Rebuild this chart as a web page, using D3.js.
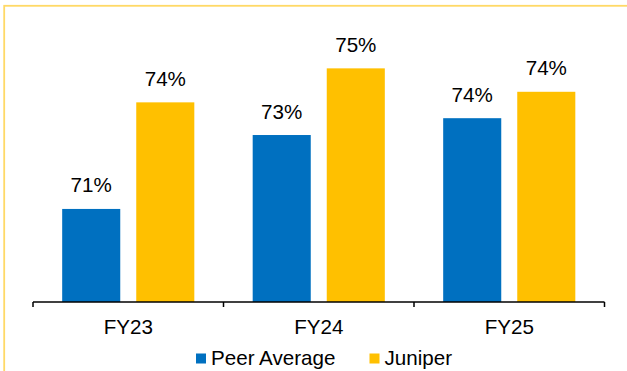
<!DOCTYPE html>
<html>
<head>
<meta charset="utf-8">
<script src="https://cdn.jsdelivr.net/npm/d3@7"></script>
<style>
  body { margin: 0; background: #fff; }
  svg { display: block; }
</style>
</head>
<body>
<div class="CHART"></div>
<script>
// chart values
var categories = ["FY23", "FY24", "FY25"];
var seriesNames = ["Peer Average", "Juniper"];
var peerAverage = [70.82, 73.06, 73.57];
var juniper = [74.05, 75.08, 74.37];
var seriesColors = ["#0070C0", "#FFC000"];

var width = 627, height = 371;
var font = "'Liberation Sans', Arial, sans-serif";
var fontSize = "20.6px";

var svg = d3.select(".CHART").append("svg")
    .attr("width", width)
    .attr("height", height);

// pale yellow frame, runs off the right and bottom of the picture
svg.append("rect")
    .attr("x", 4.2)
    .attr("y", 5.8)
    .attr("width", 700)
    .attr("height", 500)
    .attr("fill", "none")
    .attr("stroke", "#FFD966")
    .attr("stroke-width", 1.8);

var x0 = d3.scaleBand()
    .domain(categories)
    .range([33, 604.5]);

var x1 = d3.scaleBand()
    .domain(seriesNames)
    .range([0, x0.bandwidth()])
    .paddingInner(0.216)
    .paddingOuter(0.394);

var y = d3.scaleLinear()
    .domain([68, 76])
    .range([302, 38]);

var rows = categories.map(function(c, i) {
    return [
        {cat: c, name: seriesNames[0], value: peerAverage[i], color: seriesColors[0]},
        {cat: c, name: seriesNames[1], value: juniper[i], color: seriesColors[1]}
    ];
});

var groups = svg.selectAll("g.cat")
    .data(rows)
    .enter().append("g")
    .attr("class", "cat")
    .attr("transform", function(d, i) { return "translate(" + x0(categories[i]) + ",0)"; });

groups.selectAll("rect")
    .data(function(d) { return d; })
    .enter().append("rect")
    .attr("x", function(d) { return x1(d.name); })
    .attr("y", function(d) { return y(d.value); })
    .attr("width", x1.bandwidth())
    .attr("height", function(d) { return y(68) - y(d.value); })
    .attr("fill", function(d) { return d.color; });

// value labels
groups.selectAll("text")
    .data(function(d) { return d; })
    .enter().append("text")
    .attr("x", function(d) { return x1(d.name) + x1.bandwidth() / 2; })
    .attr("y", function(d) { return y(d.value) - 16.5; })
    .attr("text-anchor", "middle")
    .attr("font-family", font)
    .attr("font-size", fontSize)
    .attr("fill", "#000")
    .text(function(d) { return Math.round(d.value) + "%"; });

// category axis: line with ticks at the band edges
var axisY = y(68);
var edges = categories.map(function(c) { return x0(c); }).concat([x0.range()[1]]);

svg.append("line")
    .attr("x1", edges[0])
    .attr("x2", edges[edges.length - 1])
    .attr("y1", axisY)
    .attr("y2", axisY)
    .attr("stroke", "#000")
    .attr("stroke-width", 1.5);

svg.selectAll("line.tick")
    .data(edges)
    .enter().append("line")
    .attr("class", "tick")
    .attr("x1", function(d) { return d; })
    .attr("x2", function(d) { return d; })
    .attr("y1", axisY)
    .attr("y2", axisY + 5)
    .attr("stroke", "#000")
    .attr("stroke-width", 1.5);

svg.selectAll("text.catlabel")
    .data(categories)
    .enter().append("text")
    .attr("class", "catlabel")
    .attr("x", function(d) { return x0(d) + x0.bandwidth() / 2; })
    .attr("y", 334)
    .attr("text-anchor", "middle")
    .attr("font-family", font)
    .attr("font-size", fontSize)
    .attr("fill", "#000")
    .text(function(d) { return d; });

// legend
var legendX = [196, 369.5];
var legend = svg.selectAll("g.legend")
    .data(seriesNames)
    .enter().append("g")
    .attr("class", "legend")
    .attr("transform", function(d, i) { return "translate(" + legendX[i] + ",0)"; });

legend.append("rect")
    .attr("x", 0)
    .attr("y", 353.5)
    .attr("width", 10)
    .attr("height", 10)
    .attr("fill", function(d, i) { return seriesColors[i]; });

legend.append("text")
    .attr("x", 15)
    .attr("y", 365)
    .attr("font-family", font)
    .attr("font-size", fontSize)
    .attr("fill", "#000")
    .text(function(d) { return d; });
</script>
</body>
</html>
